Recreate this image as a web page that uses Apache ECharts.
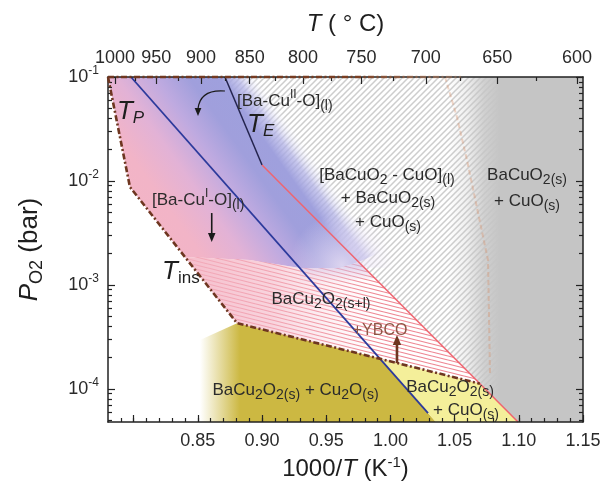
<!DOCTYPE html>
<html>
<head>
<meta charset="utf-8">
<script src="https://cdn.jsdelivr.net/npm/echarts@6.0.0/dist/echarts.min.js"></script>
<style>
html, body { margin: 0; padding: 0; background: #ffffff; }
#chart { width: 602px; height: 486px; }
</style>
</head>
<body>
<div id="chart"></div>
<script>
// ---- Axes ------------------------------------------------------------------
const xMin = 0.78, xMax = 1.15;            // 1000/T (K^-1)
const pMin = 4.79e-5, pMax = 0.1;          // P_O2 (bar)
const xLabelValues = [0.85, 0.90, 0.95, 1.00, 1.05, 1.10, 1.15];
const xMajorTickValues = [0.80, 0.85, 0.90, 0.95, 1.00, 1.05, 1.10, 1.15];
const tempLabelsC = [1000, 950, 900, 850, 800, 750, 700, 650, 600];
const tempMinorC = [975, 925, 875, 825, 775, 725, 675, 625];
const pDecades = [1e-4, 1e-3, 1e-2, 1e-1];

// ---- Phase boundaries, points are [1000/T, P_O2 (bar)] ----------------------
const insulatorBoundary = [[0.780, 0.1], [0.7971, 8.73e-3], [0.8805, 4.28e-4], [1.069, 1.125e-4]];
const topBoundary = [[0.780, 0.1], [1.055, 0.1]];
const cuILine = [[0.7979, 0.1], [1.0293, 5.83e-5]];
const eutecticLine = [[0.8711, 0.1], [0.9000, 0.01422]];
const cuOLine = [[0.9000, 0.01422], [1.0994, 4.79e-5]];
const solidusEdge = [[1.0425, 0.1], [1.0518, 0.0412], [1.0596, 0.0159], [1.0760, 1.73e-3], [1.0776, 1.36e-4]];

// ---- Phase field outlines ----------------------------------------------------
const liquidFrontier = [[0.9000, 0.1], [0.9296, 0.0309], [0.9514, 0.01274], [0.9732, 5.25e-3], [0.9958, 2.16e-3], [0.9753, 1.657e-3]];
const twoPhaseTop = [[0.8400, 1.852e-3], [0.8906, 1.733e-3], [0.9296, 1.451e-3], [0.9607, 1.451e-3], [0.9753, 1.657e-3]];
const greyFieldLeft = 1.045;
const oliveFieldLeft = [[0.8478, 2.8e-4], [0.8478, 4.79e-5]];

// ---- helpers -------------------------------------------------------------------
const FONT = '"Liberation Sans", Arial, Helvetica, sans-serif';
const lg = Math.log10;
const XY = pts => pts.map(([x, p]) => [x, lg(p)]);
function cross(a1, a2, b1, b2) {
  const d1x = a2[0] - a1[0], d1y = a2[1] - a1[1];
  const d2x = b2[0] - b1[0], d2y = b2[1] - b1[1];
  const den = d1x * d2y - d1y * d2x;
  const t = ((b1[0] - a1[0]) * d2y - (b1[1] - a1[1]) * d2x) / den;
  return [a1[0] + t * d1x, a1[1] + t * d1y];
}
function atLogP(a, b, l) {
  const t = (l - a[1]) / (b[1] - a[1]);
  return [a[0] + t * (b[0] - a[0]), l];
}

const ins = XY(insulatorBoundary);
const cuI = XY(cuILine), cuO = XY(cuOLine), eut = XY(eutecticLine);
const lTop = lg(pMax), lBot = lg(pMin);
const ddEnd = cross(ins[2], ins[3], cuO[0], cuO[1]);
const cuIBottom = atLogP(cuI[0], cuI[1], lBot);
const cuIxDD = cross(ins[2], ins[3], cuI[0], cuI[1]);
const tpTop = XY(twoPhaseTop);

const hatchPoly = [eut[0], [xMax, lTop], [xMax, lBot], cuO[1], cuO[0]];
const greyPoly = [[greyFieldLeft, lTop], [xMax, lTop], [xMax, lBot], [greyFieldLeft, lBot]];
const liquidPoly = [[xMin, lTop], ...XY(liquidFrontier), ddEnd, ins[2], ins[1]];
const twoPhasePoly = [...tpTop, ddEnd, ins[2]];
const olivePoly = [ins[2], cuIxDD, cuIBottom, ...XY(oliveFieldLeft).reverse()];
const yellowPoly = [cuIxDD, ddEnd, cuO[1], cuIBottom];
// soft transition between the liquid and the BaCu2O2 + liquid field
const blendTop = tpTop.slice(2);
const blendBottom = blendTop.map(([x, l]) => [x, l - 0.16]).reverse();
const blendPoly = [...blendTop, atLogP(cuO[0], cuO[1], blendTop[blendTop.length - 1][1] - 0.16), ...blendBottom];
const glowPoly = [[0.895, -2.23], [1.005, -2.23], [1.005, -2.84],
  ...tpTop.slice(1).reverse().map(([x, l]) => [x, l - 0.05])];

// stripe textures
function texture(w, h, bg, color, width, draw) {
  const c = document.createElement('canvas');
  c.width = w; c.height = h;
  const ctx = c.getContext('2d');
  if (bg) { ctx.fillStyle = bg; ctx.fillRect(0, 0, w, h); }
  ctx.strokeStyle = color; ctx.lineWidth = width;
  ctx.beginPath(); draw(ctx, w, h); ctx.stroke();
  return c;
}
const greyHatch = texture(6, 6, '#ffffff', '#cdcdcd', 1.5, (ctx, w, h) => {
  for (const k of [-w, 0, w]) { ctx.moveTo(k - 1, h + 1); ctx.lineTo(k + w + 1, -1); }
});
const pinkHatch = texture(16, 4, '#ffffff', '#ee8793', 1.1, (ctx, w, h) => {
  for (const k of [-1, 0, 1]) { ctx.moveTo(-4, -1 + k * h); ctx.lineTo(w + 4, h + 1 + k * h); }
});

function grad(api, a, b, stops) {
  const A = api.coord(a), B = api.coord(b);
  return new echarts.graphic.LinearGradient(A[0], A[1], B[0], B[1], stops, true);
}

function field(name, pts, z, styleFn) {
  return {
    type: 'custom', name, z, silent: true,
    xAxisIndex: 0, yAxisIndex: 0,
    data: [pts[0]],
    renderItem(params, api) {
      return { type: 'polygon', shape: { points: pts.map(p => api.coord(p)) }, style: styleFn(api) };
    }
  };
}

function boundary(name, pts, z, lineStyle) {
  return {
    type: 'line', name, z, silent: true, clip: false, symbol: 'none',
    xAxisIndex: 0, yAxisIndex: 0,
    data: pts, lineStyle, animation: false
  };
}

// ---- labels --------------------------------------------------------------------
const ink = '#2b2b2b';
const rich = {
  m: { fontSize: 17, lineHeight: 24, fontFamily: FONT, fill: ink },
  s: { fontSize: 14, lineHeight: 14, verticalAlign: 'bottom', fontFamily: FONT, fill: ink },
  u: { fontSize: 12, lineHeight: 12, verticalAlign: 'top', fontFamily: FONT, fill: ink },
  T: { fontSize: 26, lineHeight: 30, fontStyle: 'italic', fontFamily: FONT, fill: '#1e1e1e' },
  ti: { fontSize: 17, lineHeight: 17, verticalAlign: 'bottom', fontStyle: 'italic', fontFamily: FONT, fill: '#1e1e1e' },
  tn: { fontSize: 17, lineHeight: 17, verticalAlign: 'bottom', fontFamily: FONT, fill: '#1e1e1e' },
  y: { fontSize: 16, lineHeight: 22, fontFamily: FONT, fill: '#8e5646' }
};
const notes = [
  { at: [0.7870, 0.0460], align: 'left', text: '{T|T}{ti|P}' },
  { at: [0.8883, 0.0345], align: 'left', text: '{T|T}{ti|E}' },
  { at: [0.8805, 0.0587], align: 'left', text: '{m|[Ba-Cu}{u|II}{m|-O]}{s|(l)}' },
  { at: [0.8143, 6.55e-3], align: 'left', text: '{m|[Ba-Cu}{u|I}{m|-O]}{s|(l)}' },
  { at: [0.8221, 1.33e-3], align: 'left', text: '{T|T}{tn|ins}' },
  { at: [0.9973, 0.0114], align: 'center', text: '{m|[BaCuO}{s|2}{m| - CuO]}{s|(l)}' },
  { at: [0.9981, 6.84e-3], align: 'center', text: '{m|+ BaCuO}{s|2(s)}' },
  { at: [0.9981, 4.02e-3], align: 'center', text: '{m|+ CuO}{s|(s)}' },
  { at: [1.1064, 0.0114], align: 'center', text: '{m|BaCuO}{s|2(s)}' },
  { at: [1.1064, 6.41e-3], align: 'center', text: '{m|+ CuO}{s|(s)}' },
  { at: [0.9459, 7.3e-4], align: 'center', text: '{m|BaCu}{s|2}{m|O}{s|2(s+l)}' },
  { at: [0.9919, 3.67e-4], align: 'center', text: '{y|+YBCO}' },
  { at: [0.9261, 9.72e-5], align: 'center', text: '{m|BaCu}{s|2}{m|O}{s|2(s)}{m| + Cu}{s|2}{m|O}{s|(s)}' },
  { at: [1.0464, 1.04e-4], align: 'center', text: '{m|BaCu}{s|2}{m|O}{s|2(s)}' },
  { at: [1.0589, 6.24e-5], align: 'center', text: '{m|+ CuO}{s|(s)}' }
];
// arrows: [from, (control), to]
const curvedArrow = [[0.8711, 0.0733], [0.8517, 0.0766], [0.8501, 0.0422]];
const downArrow = [[0.8608, 4.91e-3], [0.8608, 2.58e-3]];
const upArrow = [[1.0051, 1.766e-4], [1.0051, 3.29e-4]];

function head(tip, from, size, color) {
  const dx = tip[0] - from[0], dy = tip[1] - from[1];
  const d = Math.hypot(dx, dy), ux = dx / d, uy = dy / d;
  const bx = tip[0] - ux * size, by = tip[1] - uy * size, w = size * 0.42;
  return { type: 'polygon', shape: { points: [tip, [bx - uy * w, by + ux * w], [bx + uy * w, by - ux * w]] }, style: { fill: color } };
}

const annotations = {
  type: 'custom', name: 'annotations', z: 40, silent: true,
  xAxisIndex: 0, yAxisIndex: 0, data: [[xMin, lTop]],
  renderItem(params, api) {
    const c = p => api.coord([p[0], lg(p[1])]);
    const kids = notes.map(n => {
      const pt = c(n.at);
      return { type: 'text', x: pt[0], y: pt[1], style: { text: n.text, rich, align: n.align, verticalAlign: 'middle', fontFamily: FONT } };
    });
    const a0 = c(curvedArrow[0]), a1 = c(curvedArrow[1]), a2 = c(curvedArrow[2]);
    kids.push({ type: 'bezierCurve', shape: { x1: a0[0], y1: a0[1], cpx1: a1[0], cpy1: a1[1], x2: a2[0], y2: a2[1] - 7 }, style: { stroke: '#1a1a1a', lineWidth: 1.2, fill: null } });
    kids.push(head(a2, [a2[0], a2[1] - 10], 8, '#1a1a1a'));
    const d0 = c(downArrow[0]), d1 = c(downArrow[1]);
    kids.push({ type: 'line', shape: { x1: d0[0], y1: d0[1], x2: d1[0], y2: d1[1] - 6 }, style: { stroke: '#1a1a1a', lineWidth: 1.6 } });
    kids.push(head(d1, d0, 9, '#1a1a1a'));
    const u0 = c(upArrow[0]), u1 = c(upArrow[1]);
    kids.push({ type: 'line', shape: { x1: u0[0], y1: u0[1], x2: u1[0], y2: u1[1] + 7 }, style: { stroke: '#6e3620', lineWidth: 2.6 } });
    kids.push(head(u1, u0, 10, '#6e3620'));
    return { type: 'group', children: kids };
  }
};

// ---- chart -------------------------------------------------------------------------
const gridRect = { left: 108, top: 77, width: 475, height: 345, outerBoundsMode: 'none', containLabel: false };
const frame = { show: true, onZero: false, lineStyle: { color: '#222222', width: 1.5 } };
const tickStyle = { color: '#222222', width: 1.2 };
const noLabel = { show: false };

const pMinorTicks = [];
for (let e = -5; e <= -2; e++) {
  for (let k = 2; k <= 9; k++) {
    const v = lg(k * Math.pow(10, e));
    if (v > lBot && v < lTop) pMinorTicks.push(v);
  }
}
const xMinorTicks = [];
for (let i = 79; i <= 114; i++) xMinorTicks.push(i / 100);
const invT = c => 1000 / (c + 273.15);

const option = {
  backgroundColor: '#ffffff',
  animation: false,
  grid: [0, 1, 2, 3].map(() => Object.assign({}, gridRect)),
  xAxis: [
    {
      gridIndex: 0, type: 'value', position: 'bottom', min: xMin, max: xMax, z: 20,
      axisLine: frame, splitLine: { show: false },
      axisTick: { show: true, inside: true, length: 7, customValues: xMajorTickValues, lineStyle: tickStyle },
      axisLabel: { show: true, customValues: xLabelValues, formatter: v => v.toFixed(2), fontSize: 18, color: '#2a2a2a', margin: 10, fontFamily: FONT },
      name: '{n|1000/}{i|T}{n| (K}{u|-1}{n|)}', nameLocation: 'middle', nameGap: 23,
      nameTextStyle: { rich: {
        n: { fontSize: 24, lineHeight: 28, fontFamily: FONT, color: '#1e1e1e' },
        i: { fontSize: 24, lineHeight: 28, fontStyle: 'italic', fontFamily: FONT, color: '#1e1e1e' },
        u: { fontSize: 15, lineHeight: 15, verticalAlign: 'top', fontFamily: FONT, color: '#1e1e1e' } } }
    },
    {
      gridIndex: 1, type: 'value', position: 'top', min: xMin, max: xMax, z: 20,
      axisLine: frame, splitLine: { show: false },
      axisTick: { show: true, inside: true, length: 7, customValues: tempLabelsC.map(invT), lineStyle: tickStyle },
      axisLabel: { show: true, customValues: tempLabelsC.map(invT), formatter: v => String(Math.round(1000 / v - 273.15)), fontSize: 18, color: '#2a2a2a', margin: 10, fontFamily: FONT },
      name: '{i|T}{n| ( ° C)}', nameLocation: 'middle', nameGap: 39,
      nameTextStyle: { rich: {
        n: { fontSize: 24, lineHeight: 28, fontFamily: FONT, color: '#1e1e1e' },
        i: { fontSize: 24, lineHeight: 28, fontStyle: 'italic', fontFamily: FONT, color: '#1e1e1e' } } }
    },
    {
      gridIndex: 2, type: 'value', position: 'bottom', min: xMin, max: xMax, z: 20,
      axisLine: { show: false }, splitLine: { show: false }, axisLabel: noLabel,
      axisTick: { show: true, inside: true, length: 4, customValues: xMinorTicks, lineStyle: tickStyle }
    },
    {
      gridIndex: 3, type: 'value', position: 'top', min: xMin, max: xMax, z: 20,
      axisLine: { show: false }, splitLine: { show: false }, axisLabel: noLabel,
      axisTick: { show: true, inside: true, length: 4, customValues: tempMinorC.map(invT), lineStyle: tickStyle }
    }
  ],
  yAxis: [
    {
      gridIndex: 0, type: 'value', position: 'left', min: lBot, max: lTop, z: 20,
      axisLine: frame, splitLine: { show: false },
      axisTick: { show: true, inside: true, length: 7, customValues: pDecades.map(lg), lineStyle: tickStyle },
      axisLabel: { show: true, customValues: pDecades.map(lg), margin: 9,
        formatter: v => '{b|10}{e|' + Math.round(v) + '}',
        rich: {
          b: { fontSize: 18, lineHeight: 24, fontFamily: FONT, color: '#2a2a2a' },
          e: { fontSize: 12, lineHeight: 12, verticalAlign: 'top', fontFamily: FONT, color: '#2a2a2a' } } },
      name: '{i|P}{s|O2}{n| (bar)}', nameLocation: 'middle', nameGap: 62, nameRotate: 90,
      nameTextStyle: { rich: {
        n: { fontSize: 26, lineHeight: 32, fontFamily: FONT, color: '#1e1e1e' },
        i: { fontSize: 26, lineHeight: 32, fontStyle: 'italic', fontFamily: FONT, color: '#1e1e1e' },
        s: { fontSize: 18, lineHeight: 18, verticalAlign: 'bottom', fontFamily: FONT, color: '#1e1e1e' } } }
    },
    {
      gridIndex: 1, type: 'value', position: 'right', min: lBot, max: lTop, z: 20,
      axisLine: frame, splitLine: { show: false }, axisLabel: noLabel,
      axisTick: { show: true, inside: true, length: 7, customValues: pDecades.map(lg), lineStyle: tickStyle }
    },
    {
      gridIndex: 2, type: 'value', position: 'left', min: lBot, max: lTop, z: 20,
      axisLine: { show: false }, splitLine: { show: false }, axisLabel: noLabel,
      axisTick: { show: true, inside: true, length: 4, customValues: pMinorTicks, lineStyle: tickStyle }
    },
    {
      gridIndex: 3, type: 'value', position: 'right', min: lBot, max: lTop, z: 20,
      axisLine: { show: false }, splitLine: { show: false }, axisLabel: noLabel,
      axisTick: { show: true, inside: true, length: 4, customValues: pMinorTicks, lineStyle: tickStyle }
    }
  ],
  series: [
    field('CuO + BaCuO2 + liquid', hatchPoly, 1, () => ({ fill: { image: greyHatch, repeat: 'repeat' } })),
    field('BaCuO2 + CuO', greyPoly, 2, api => ({
      fill: grad(api, [greyFieldLeft, lTop], [1.085, lTop], [
        { offset: 0, color: 'rgba(197,197,197,0)' },
        { offset: 0.35, color: 'rgba(197,197,197,0.25)' },
        { offset: 0.7, color: 'rgba(197,197,197,0.8)' },
        { offset: 1, color: 'rgba(197,197,197,1)' }])
    })),
    field('liquid', liquidPoly, 3, api => ({
      fill: grad(api, [0.8127, lg(7.15e-4)], [1.0090, lg(0.0385)], [
        { offset: 0.00, color: '#f4b5c4' },
        { offset: 0.22, color: '#f2b4c7' },
        { offset: 0.33, color: '#e2b2d6' },
        { offset: 0.43, color: '#bfaae0' },
        { offset: 0.52, color: '#a09fdc' },
        { offset: 0.60, color: '#9fa0dd' },
        { offset: 0.645, color: 'rgba(176,176,230,0.7)' },
        { offset: 0.70, color: 'rgba(245,245,252,0)' }])
    })),
    field('liquid glow', glowPoly, 3, api => {
      const c = api.coord([0.962, lg(1.55e-3)]);
      return { fill: new echarts.graphic.RadialGradient(c[0], c[1], 52, [
        { offset: 0, color: 'rgba(240,230,246,0.75)' },
        { offset: 0.5, color: 'rgba(232,222,244,0.4)' },
        { offset: 1, color: 'rgba(230,220,244,0)' }], true) };
    }),
    field('BaCu2O2 + liquid', twoPhasePoly, 4, () => ({ fill: { image: pinkHatch, repeat: 'repeat' } })),
    field('BaCu2O2 + liquid tint', twoPhasePoly, 5, api => ({
      fill: grad(api, [0.8400, lTop], [0.9900, lTop], [
        { offset: 0, color: 'rgba(243,178,194,0.85)' },
        { offset: 0.45, color: 'rgba(244,182,198,0.6)' },
        { offset: 1, color: 'rgba(250,222,230,0)' }])
    })),
    field('liquid blend', blendPoly, 5, api => ({
      fill: grad(api, [0.95, blendTop[0][1] + 0.02], [0.95, blendTop[0][1] - 0.16], [
        { offset: 0, color: 'rgba(200,186,230,0.55)' },
        { offset: 1, color: 'rgba(236,200,222,0)' }])
    })),
    field('BaCu2O2 + Cu2O', olivePoly, 6, api => ({
      fill: grad(api, [0.8517, lBot], [0.8828, lBot], [
        { offset: 0, color: 'rgba(204,184,66,0)' },
        { offset: 1, color: 'rgba(204,184,66,1)' }])
    })),
    field('BaCu2O2 + CuO', yellowPoly, 7, () => ({ fill: '#f4ef9a' })),
    boundary('solidus edge', XY(solidusEdge), 8, { color: 'rgba(214,140,100,0.35)', width: 2, type: [5, 3] }),
    boundary('Cu(I) line', cuI, 9, { color: '#2c3a9c', width: 1.8 }),
    boundary('T_E', eut, 9, { color: '#24244e', width: 1.5 }),
    boundary('CuO line', cuO, 9, { color: '#f0646f', width: 1.5 }),
    boundary('T_ins', [ins[0], ins[1], ins[2], ddEnd], 30, { color: '#6e3620', width: 2.6, type: [6, 2.5, 2, 2.5] }),
    boundary('top', XY(topBoundary), 30, {
      color: new echarts.graphic.LinearGradient(0, 0, 1, 0, [
        { offset: 0, color: '#6e3620' }, { offset: 0.7, color: '#7a3e22' }, { offset: 1, color: 'rgba(210,140,100,0.3)' }]),
      width: 2.6, type: [6, 2.5, 2, 2.5] }),
    annotations
  ]
};

const chart = echarts.init(document.getElementById('chart'), null, { renderer: 'canvas', width: 602, height: 486 });
chart.setOption(option);
</script>
</body>
</html>
